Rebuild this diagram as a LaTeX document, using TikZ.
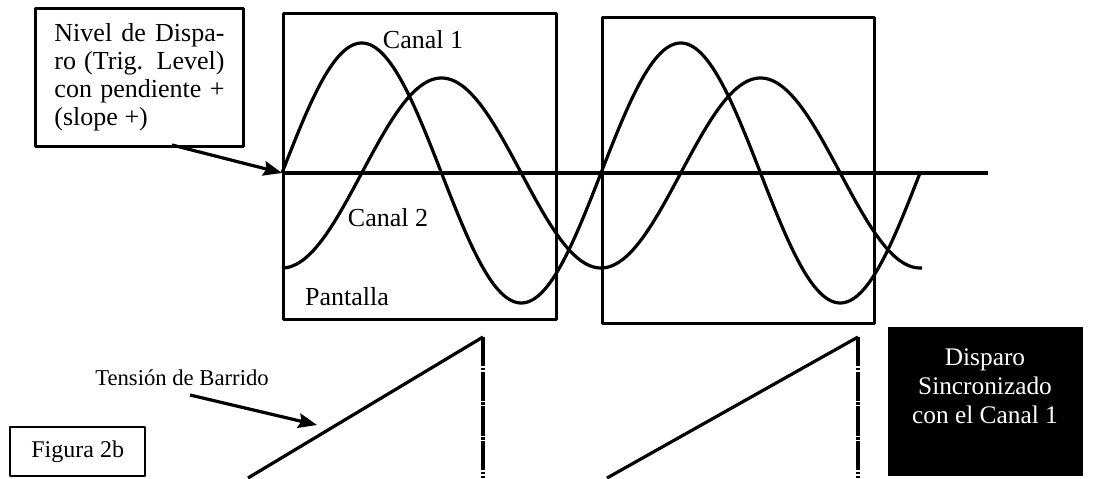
\documentclass[tikz,border=0pt]{standalone}
\usepackage{fontspec}
\setmainfont{Liberation Serif}
\usetikzlibrary{arrows.meta}
\begin{document}
\begin{tikzpicture}[x=0.75pt,y=-0.75pt, line join=round,
  frame/.style={draw, line width=2.2pt, inner sep=0pt},
  wave/.style={line width=2.4pt},
  lbl/.style={font=\fontsize{19.5}{21}\selectfont, inner sep=0pt},
  arr/.style={line width=2.4pt, -{Stealth[length=14pt,width=11pt,inset=2pt]}},
  retrace/.style={line width=2.4pt, dash pattern=on 22pt off 1pt on 2pt off 1pt}
]
\useasboundingbox (0,0) rectangle (1112,478);
\fill[white] (0,0) rectangle (1112,478);

% screens
\node[frame, anchor=north west, minimum width=204.75pt, minimum height=229.5pt] (scr1) at (282,12) {};
\node[frame, anchor=north west, minimum width=204pt, minimum height=229.5pt] (scr2) at (601,16) {};

% trigger level line
\coordinate (lvlL) at (282,173);
\coordinate (lvlR) at (988,173);
\draw[line width=3.5pt] (lvlL) -- (lvlR);

% waves
\draw[wave] plot[domain=282:920, samples=240, smooth] (\x, {173-130*sin(1.128527*(\x-282))});
\draw[wave] plot[domain=282:922, samples=240, smooth] (\x, {173+95*cos(1.128527*(\x-282))});

% labels
\node[lbl] (c1) at (423,40) {Canal 1};
\node[lbl] (c2) at (388,218) {Canal 2};
\node[lbl] (pant) at (347,297) {Pantalla};

% trigger label box
\node[frame, lbl, anchor=north west, minimum width=156pt, minimum height=103.5pt,
      text width=127.5pt, align=justify] (trig) at (34,7)
  {Nivel de Dispa-\linebreak ro (Trig. Level)\linebreak con pendiente +\linebreak (slope +)};
\coordinate (trigA) at (172,145);
\draw[arr] (trigA) -- (lvlL);

% sweep
\node[lbl, font=\fontsize{17}{19}\selectfont] (tens) at (182,378) {Tensión de Barrido};
\coordinate (tensA) at (190,395);
\coordinate (tensB) at (317,425);
\draw[arr] (tensA) -- (tensB);

\coordinate (r1a) at (248,478);
\coordinate (r1b) at (483,337);
\coordinate (r1c) at (483,478);
\coordinate (r2a) at (607,478);
\coordinate (r2b) at (858,337);
\coordinate (r2c) at (858,478);
\draw[wave] (r1a) -- (r1b);
\draw[retrace] (r1b) -- (r1c);
\draw[wave] (r2a) -- (r2b);
\draw[retrace] (r2b) -- (r2c);

% figure box
\node[frame, lbl, font=\fontsize{18}{21}\selectfont, line width=1.8pt, anchor=north west, minimum width=101.25pt, minimum height=36.75pt] (fig) at (9,426) {Figura 2b};

% sync box
\node[fill=black, anchor=north west, minimum width=146.25pt, minimum height=111.75pt, inner sep=0pt] (sync) at (888,327) {};
\node[lbl, font=\fontsize{19}{21.75}\selectfont, text=white, align=center] (synctext) at (985,386) {Disparo\\Sincronizado\\con el Canal 1};
\end{tikzpicture}
\end{document}
